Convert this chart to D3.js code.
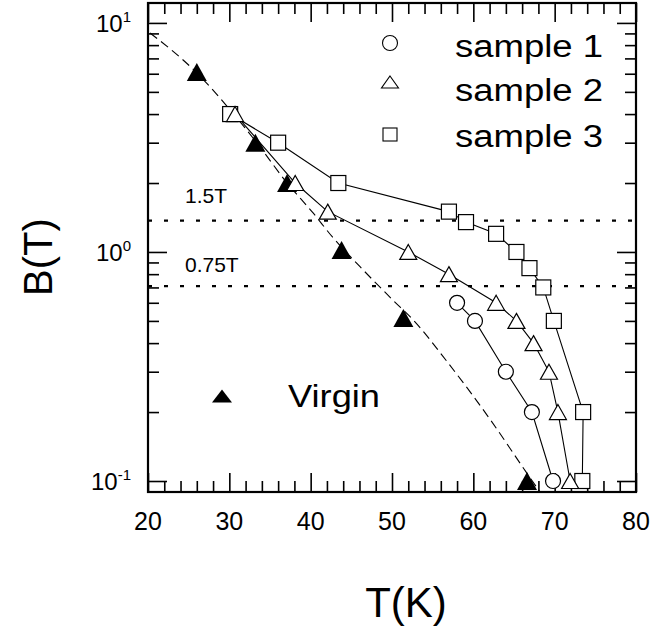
<!DOCTYPE html>
<html><head><meta charset="utf-8">
<script src="https://cdn.jsdelivr.net/npm/d3@7"></script>
<style>body{margin:0;background:#fff}svg{display:block}text{font-family:"Liberation Sans",Arial,sans-serif;fill:#000}</style>
</head><body><svg id="c" width="651" height="634"></svg>
<script>
// ---- data ----
const virginT = [26, 33.2, 37.1, 43.8, 51.4, 66.6];
const virginB = [6.1, 3.0, 2.0, 1.02, 0.515, 0.1];
const s1T = [58, 60.2, 64, 67.2, 69.8];
const s1B = [0.6, 0.5, 0.3, 0.2, 0.1];
const s2T = [30.7, 38.1, 42.1, 52, 57, 62.8, 65.3, 67.4, 69.3, 70.4, 71.9];
const s2B = [4, 2, 1.5, 1.0, 0.8, 0.6, 0.5, 0.4, 0.3, 0.2, 0.1];
const s3T = [30.1, 36, 43.4, 57, 59.1, 62.8, 65.3, 66.9, 68.6, 69.9, 73.5, 73.4];
const s3B = [4, 3, 2, 1.5, 1.35, 1.2, 1.0, 0.85, 0.7, 0.5, 0.2, 0.1];
const fitT = [20.25, 26.0, 30.1, 33.4, 37.1, 40.3, 42.7, 46.1, 50.1, 52.6, 56.8, 62.1, 66.6, 68.2];
const fitB = [9.04, 6.05, 4.17, 2.99, 2.0, 1.48, 1.16, 0.86, 0.617, 0.505, 0.331, 0.185, 0.108, 0.0895];
const refLevels = [1.37, 0.71];
const refLabels = ["1.5T", "0.75T"];
const xTicks = [20, 30, 40, 50, 60, 70, 80];
const yTicks = [0.1, 1, 10];
const yTickExp = ["-1", "0", "1"];
const legendNames = ["sample 1", "sample 2", "sample 3"];

// ---- layout ----
const L = 148, R = 636, T = 3, B = 492;
const svg = d3.select("#c");
const x = d3.scaleLinear().domain([20, 80]).range([L, R]);
const y = d3.scaleLog().domain([Math.pow(10, -1.048), Math.pow(10, 1.087)]).range([B, T]);

const clip = svg.append("clipPath").attr("id", "cp").append("rect")
  .attr("x", L).attr("y", T).attr("width", R - L).attr("height", B - T);

// minor values
const xMinor = d3.range(22, 80, 2).filter(v => v % 10 !== 0);
const yMinor = [];
[0.1, 1].forEach(d => { for (let k = 2; k <= 9; k++) yMinor.push(d * k); });

function tickAxis(axisFn, scale, vals, size, tr) {
  const g = svg.append("g").attr("transform", tr)
    .call(axisFn(scale).tickValues(vals).tickSize(size).tickFormat(""));
  g.select(".domain").remove();
  g.selectAll(".tick line").attr("stroke", "#000").attr("stroke-width", 1.6);
}
tickAxis(d3.axisBottom, x, xTicks, -19, `translate(0,${B})`);
tickAxis(d3.axisBottom, x, xMinor, -11, `translate(0,${B})`);
tickAxis(d3.axisTop, x, xTicks, -19, `translate(0,${T})`);
tickAxis(d3.axisTop, x, xMinor, -11, `translate(0,${T})`);
tickAxis(d3.axisLeft, y, yTicks, -19, `translate(${L},0)`);
tickAxis(d3.axisLeft, y, yMinor, -11, `translate(${L},0)`);
tickAxis(d3.axisRight, y, yTicks, -19, `translate(${R},0)`);
tickAxis(d3.axisRight, y, yMinor, -11, `translate(${R},0)`);

// frame
svg.append("rect").attr("x", L).attr("y", T).attr("width", R - L).attr("height", B - T)
  .attr("fill", "none").attr("stroke", "#000").attr("stroke-width", 2.2);

// tick labels
svg.append("g").selectAll("text").data(xTicks).join("text")
  .attr("x", d => x(d)).attr("y", 530).attr("text-anchor", "middle")
  .attr("font-size", 25).text(d => d);
const yl = svg.append("g").selectAll("text").data(yTicks).join("text")
  .attr("x", 131).attr("y", d => y(d) + 9).attr("text-anchor", "end").attr("font-size", 24);
yl.append("tspan").text("10");
yl.append("tspan").attr("dy", -10).attr("font-size", 15).text((d, i) => yTickExp[i]);

// axis titles
svg.append("text").attr("transform", "translate(52,257) rotate(-90)")
  .attr("text-anchor", "middle").attr("font-size", 40).text("B(T)");
svg.append("text").attr("x", 406).attr("y", 617).attr("text-anchor", "middle")
  .attr("font-size", 42).text("T(K)");

const plot = svg.append("g").attr("clip-path", "url(#cp)");

// reference dotted lines
refLevels.forEach((v, i) => {
  plot.append("line").attr("x1", L).attr("x2", R).attr("y1", y(v)).attr("y2", y(v))
    .attr("stroke", "#000").attr("stroke-width", 2.2).attr("stroke-dasharray", "4,12");
});
svg.append("g").selectAll("text").data(refLabels).join("text")
  .attr("x", 185).attr("y", (d, i) => [203, 272][i]).attr("font-size", 21).text(d => d);

// fit dashed curve
const line = d3.line().x(d => x(d[0])).y(d => y(d[1]));
plot.append("path").datum(fitT.map((t, i) => [t, fitB[i]]))
  .attr("d", line.curve(d3.curveMonotoneX)).attr("fill", "none").attr("stroke", "#000")
  .attr("stroke-width", 1.1).attr("stroke-dasharray", "9,5");

const lineS = d3.line().x(d => x(d[0])).y(d => y(d[1]));
[[s1T, s1B], [s2T, s2B], [s3T, s3B]].forEach(([ts, bs]) => {
  plot.append("path").datum(ts.map((t, i) => [t, bs[i]])).attr("d", lineS)
    .attr("fill", "none").attr("stroke", "#000").attr("stroke-width", 1.1);
});

function tri(w, h) { return `M0,${-h / 2}L${w / 2},${h / 2}L${-w / 2},${h / 2}Z`; }

// markers
const mk = svg.append("g");
mk.selectAll(".v").data(virginT).join("path")
  .attr("transform", (d, i) => `translate(${x(d)},${y(virginB[i])})`)
  .attr("d", tri(20, 18)).attr("fill", "#000");
mk.selectAll(".s3").data(s3T).join("rect")
  .attr("x", (d) => x(d) - 7.5).attr("y", (d, i) => y(s3B[i]) - 7.5)
  .attr("width", 15).attr("height", 15).attr("fill", "#fff").attr("stroke", "#000").attr("stroke-width", 1.2);
mk.selectAll(".s2").data(s2T).join("path")
  .attr("transform", (d, i) => `translate(${x(d)},${y(s2B[i])})`)
  .attr("d", tri(17, 15)).attr("fill", "#fff").attr("stroke", "#000").attr("stroke-width", 1.2);
mk.selectAll(".s1").data(s1T).join("circle")
  .attr("cx", d => x(d)).attr("cy", (d, i) => y(s1B[i])).attr("r", 7.5)
  .attr("fill", "#fff").attr("stroke", "#000").attr("stroke-width", 1.2);

// legend
const lg = svg.append("g");
lg.append("circle").attr("cx", 390).attr("cy", 43).attr("r", 7.5)
  .attr("fill", "#fff").attr("stroke", "#000").attr("stroke-width", 1.1);
lg.append("path").attr("transform", "translate(390,82)").attr("d", tri(17, 12))
  .attr("fill", "#fff").attr("stroke", "#000").attr("stroke-width", 1.1);
lg.append("rect").attr("x", 383).attr("y", 128).attr("width", 14).attr("height", 13)
  .attr("fill", "#fff").attr("stroke", "#000").attr("stroke-width", 1.1);
lg.selectAll("text.l").data(legendNames).join("text")
  .attr("x", 455).attr("y", (d, i) => [57, 101, 147][i]).attr("font-size", 31)
  .attr("textLength", 148).attr("lengthAdjust", "spacingAndGlyphs").text(d => d);
lg.append("path").attr("transform", "translate(222,396)").attr("d", tri(20, 13)).attr("fill", "#000");
lg.append("text").attr("x", 288).attr("y", 407).attr("font-size", 31)
  .attr("textLength", 92).attr("lengthAdjust", "spacingAndGlyphs").text("Virgin");
</script></body></html>
